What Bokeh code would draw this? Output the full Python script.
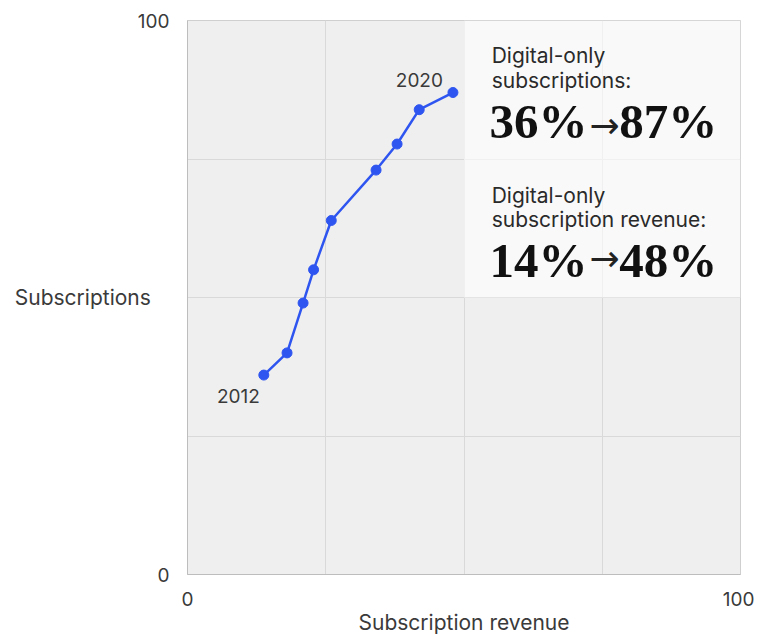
from bokeh.plotting import figure
from bokeh.models import (Range1d, FixedTicker, Label, BoxAnnotation, ColumnDataSource)
from bokeh.embed import file_html
from bokeh.resources import INLINE
from bokeh.core.properties import value

# ---- data ----
years = ["2012", "2013", "2014", "2015", "2016", "2017", "2018", "2019", "2020"]
revenue_share = [13.8, 18.0, 20.9, 22.8, 26.0, 34.1, 37.9, 41.9, 48.0]
subs_share = [36.0, 40.0, 49.0, 55.0, 63.9, 73.0, 77.7, 83.9, 87.0]
axis_ticks = [0, 100]
grid_ticks = [25, 50, 75]

SANS = "Inter"
SERIF = "Liberation Serif"
TXT = "#3a3a3a"

p = figure(frame_width=553, frame_height=554,
           min_border_left=187, min_border_top=20, min_border_right=14, min_border_bottom=0,
           x_range=Range1d(0, 100), y_range=Range1d(0, 100),
           output_backend="svg", toolbar_location=None,
           background_fill_color="#efefef", border_fill_color="white")

p.outline_line_color = "#cfcfcf"
p.outline_line_width = 1

for ax in (p.xaxis[0], p.yaxis[0]):
    ax.ticker = FixedTicker(ticks=axis_ticks)
    ax.major_tick_line_color = None
    ax.minor_tick_line_color = None
    ax.axis_line_color = "#bdbdbd"
    ax.major_label_text_font = SANS
    ax.major_label_text_font_size = "19px"
    ax.major_label_text_color = TXT

p.xaxis.major_label_standoff = 11
p.yaxis.major_label_standoff = 12
p.xaxis.axis_label = "Subscription revenue"
p.xaxis.axis_label_text_font = SANS
p.xaxis.axis_label_text_font_style = "normal"
p.xaxis.axis_label_text_font_size = "21px"
p.xaxis.axis_label_text_color = TXT
p.xaxis.axis_label_standoff = 1

yax = p.yaxis[0]
yax.axis_label = "Subscriptions"
yax.axis_label_text_font = SANS
yax.axis_label_text_font_style = "normal"
yax.axis_label_text_font_size = "21px"
yax.axis_label_text_color = TXT
yax.axis_label_standoff = -16
if "axis_label_orientation" in yax.properties():
    yax.axis_label_orientation = "horizontal"

p.xgrid.ticker = FixedTicker(ticks=grid_ticks)
p.ygrid.ticker = FixedTicker(ticks=grid_ticks)
p.xgrid.grid_line_color = "#d9d9d9"
p.ygrid.grid_line_color = "#d9d9d9"

# highlight box behind the callout text
p.add_layout(BoxAnnotation(left=50, right=100, bottom=50, top=100,
                           fill_color="white", fill_alpha=0.6, line_color=None,
                           level="underlay"))

src = ColumnDataSource(dict(x=revenue_share, y=subs_share, year=years))
BLUE = "#2f55f0"
p.line("x", "y", source=src, line_color=BLUE, line_width=2.5)
p.scatter("x", "y", source=src, size=10, fill_color=BLUE, line_color=BLUE)

first = ColumnDataSource(dict(x=revenue_share[:1], y=subs_share[:1], t=years[:1]))
last = ColumnDataSource(dict(x=revenue_share[-1:], y=subs_share[-1:], t=years[-1:]))
p.text("x", "y", text="t", source=first, x_offset=-4, y_offset=14,
       text_align="right", text_baseline="top", text_font=value(SANS),
       text_font_size="19px", text_color=TXT)
p.text("x", "y", text="t", source=last, x_offset=-10, y_offset=-20,
       text_align="right", text_baseline="top", text_font=value(SANS),
       text_font_size="19px", text_color=TXT)

# callout text
def small(y, t):
    p.add_layout(Label(x=55.0, y=y, text=t, text_align="left", text_baseline="top",
                       text_font=SANS, text_font_size="21px", text_color="#2a2a2a"))

def big(y, a, b, arrow_y):
    p.add_layout(Label(x=54.6, y=y, text=a, text_align="left", text_baseline="top",
                       text_font=SERIF, text_font_style="bold", text_font_size="49px",
                       text_color="#111111"))
    p.add_layout(Label(x=75.4, y=arrow_y, text="\u2192", text_align="center",
                       text_baseline="middle", text_font="DejaVu Sans",
                       text_font_size="36px", text_color="#222222"))
    p.add_layout(Label(x=95.8, y=y, text=b, text_align="right", text_baseline="top",
                       text_font=SERIF, text_font_style="bold", text_font_size="49px",
                       text_color="#111111"))

small(96.0, "Digital-only")
small(91.5, "subscriptions:")
big(86.8, "36%", "87%", 81.0)
small(70.6, "Digital-only")
small(66.4, "subscription revenue:")
big(61.6, "14%", "48%", 57.1)

open("out.html", "w").write(file_html(p, INLINE))
